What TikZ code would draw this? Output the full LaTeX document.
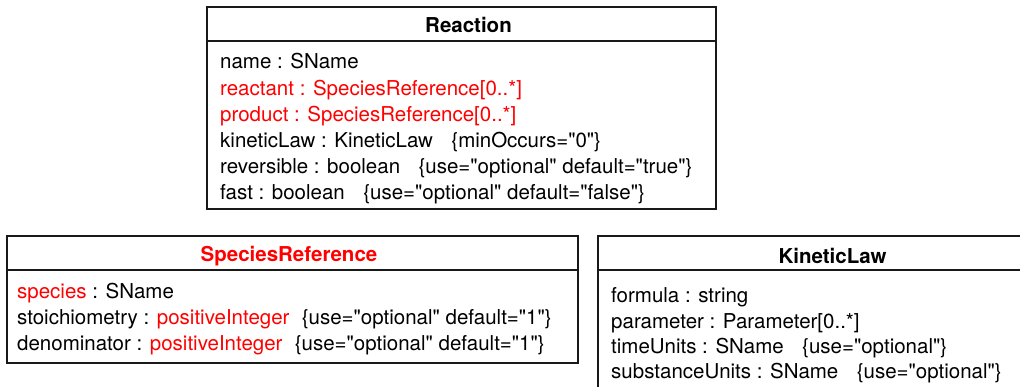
\documentclass[tikz,border=0pt]{standalone}
\usepackage{fontspec}
\setmainfont{TeX Gyre Heros}[Ligatures=TeXOff]
\usepackage{tikz}

\colorlet{sbmlred}{red}
\newcommand{\attrgap}{\hspace{0.9em}}
\tikzset{
  classbox/.style={draw=black!90, line width=1.8pt},
  classname/.style={font=\bfseries\fontsize{20.5}{26}\selectfont, inner sep=0pt, anchor=base},
  attr/.style={font=\fontsize{20.5}{26}\selectfont, inner sep=0pt, anchor=base west}
}

\begin{document}
\begin{tikzpicture}[x=1pt,y=-1pt]
 \path[use as bounding box] (0,0) rectangle (1020,387);
 \clip (0,0) rectangle (1020,387);

\draw[classbox] (207,7) rectangle (716,209);
\draw[classbox] (207,41) -- (716,41);
\node[classname] (reactionTitle) at (468.5,33) {Reaction};
\foreach \txt [count=\i] in {
	{name : SName},
	{\textcolor{sbmlred}{reactant : SpeciesReference[0..*]}},
	{\textcolor{sbmlred}{product : SpeciesReference[0..*]}},
	{kineticLaw : KineticLaw\attrgap\{minOccurs="0"\}},
	{reversible : boolean\attrgap\{use="optional" default="true"\}},
	{fast : boolean\attrgap\{use="optional" default="false"\}}}
	\node[attr] (reaction-\i) at (220,{69+26.1*(\i-1)}) {\txt};

\draw[classbox] (7,236) rectangle (578,363);
\draw[classbox] (7,270) -- (578,270);
\node[classname, text=sbmlred] (speciesRefTitle) at (289,262) {SpeciesReference};
\foreach \txt [count=\i] in {
	{\textcolor{sbmlred}{species} : SName},
	{stoichiometry : \textcolor{sbmlred}{positiveInteger}\hspace{0.6em}\{use="optional" default="1"\}},
	{denominator : \textcolor{sbmlred}{positiveInteger}\hspace{0.6em}\{use="optional" default="1"\}}}
	\node[attr] (speciesRef-\i) at (17,{299+25.5*(\i-1)}) {\txt};

\draw[classbox] (598,236) rectangle (1040,400);
\draw[classbox] (598,270) -- (1040,270);
\node[classname] (kineticLawTitle) at (832.5,264) {KineticLaw};
\foreach \txt [count=\i] in {
	{formula : string},
	{parameter : Parameter[0..*]},
	{timeUnits : SName\attrgap\{use="optional"\}},
	{substanceUnits : SName\attrgap\{use="optional"\}}}
	\node[attr] (kineticLaw-\i) at (611,{303+25.3*(\i-1)}) {\txt};

\end{tikzpicture}
\end{document}
